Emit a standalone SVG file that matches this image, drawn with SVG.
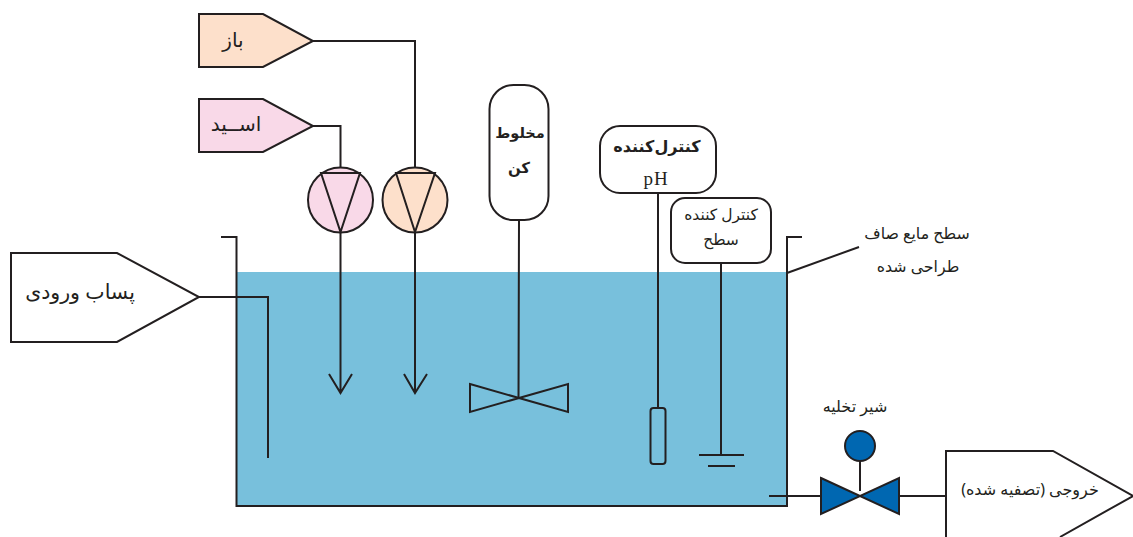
<svg xmlns="http://www.w3.org/2000/svg" width="1133" height="537" viewBox="0 0 1133 537">
<style>
.s{stroke:#231f20;stroke-width:2;fill:none}
.w{fill:#fff}
text{font-family:"Noto Sans","DejaVu Sans",sans-serif;fill:#231f20;text-anchor:middle;direction:rtl}
text.ph{font-family:"Liberation Serif",serif;direction:ltr;letter-spacing:1px}
</style>
<rect width="1133" height="537" fill="#fff"/>
<g id="tank">
<rect x="236" y="272" width="551" height="234" fill="#78c0dc"/>
<path class="s" d="M221 237H236.500V506H787V237H802"/>
</g>
<g id="connectors">
<path class="s" d="M313 41H415V167M313 126H340.500V167M340.500 233V393M415 233V393M329 374L340.500 393L352 374M404 374L415 393L427 374"/>
<path class="s" d="M199 297H268V458"/>
<path class="s" d="M519 220L518.500 398M658 193V408M721 263V455M699 455H744M708 466H735"/>
<path class="s" d="M787 273L859 247"/>
<path class="s" d="M769 496H821M899 496H946M860 459V491"/>
</g>
<g id="base"><path class="s" style="fill:#fde0cb" d="M199 14H263L313 41L263 67H199Z"/><text x="233" y="47" font-size="20">باز</text></g>
<g id="acid"><path class="s" style="fill:#f9d9e8" d="M199 99H263L313 126L263 152H199Z"/><text x="236" y="131" font-size="20">اســید</text></g>
<g id="pump-acid"><circle class="s" style="fill:#f9d9e8" cx="340.500" cy="200" r="32.500"/><path class="s" d="M321 173H360L340.500 232Z"/></g>
<g id="pump-base"><circle class="s" style="fill:#fde0cb" cx="415" cy="200" r="32.500"/><path class="s" d="M396 173H435L415 232Z"/></g>
<g id="influent"><path class="s w" d="M11 253H117L199 297L117 342H11Z"/><text x="80" y="299" font-size="20.500">پساب ورودی</text></g>
<g id="mixer"><rect class="s w" x="489.500" y="85" width="59" height="135" rx="24"/><text x="520" y="138" font-size="14.500" font-weight="700">مخلوط</text><text x="519" y="173" font-size="15" font-weight="700">کن</text></g>
<g id="impeller"><path class="s" d="M470 384L568 412V384L470 412Z"/></g>
<g id="ph-controller"><rect class="s w" x="600" y="126" width="116" height="67" rx="20"/><text x="657" y="152" font-size="16" font-weight="700">کنترل‌کننده</text><text class="ph" x="656" y="185" font-size="19">pH</text></g>
<g id="ph-probe"><rect class="s" x="650.500" y="408" width="15" height="56" rx="3"/></g>
<g id="level-controller"><rect class="s w" x="671" y="198" width="100" height="65" rx="14"/><text x="721" y="220" font-size="15.500">کنترل کننده</text><text x="721" y="245" font-size="15.500">سطح</text></g>
<g id="level-label"><text x="917" y="239" font-size="15.800">سطح مایع صاف</text><text x="918" y="272" font-size="15.800">طراحی شده</text></g>
<g id="valve"><text x="855" y="412" font-size="16">شیر تخلیه</text><circle cx="860" cy="446" r="15" fill="#0067b1" stroke="#231f20" stroke-width="2"/><path d="M821 478L899 514V478L821 514Z" fill="#0067b1" stroke="#231f20" stroke-width="2"/></g>
<g id="effluent"><path class="s w" d="M946 537V451H1053L1133 496L1060 537"/><text x="1030" y="495" font-size="16">خروجی (تصفیه شده)</text></g>
</svg>
